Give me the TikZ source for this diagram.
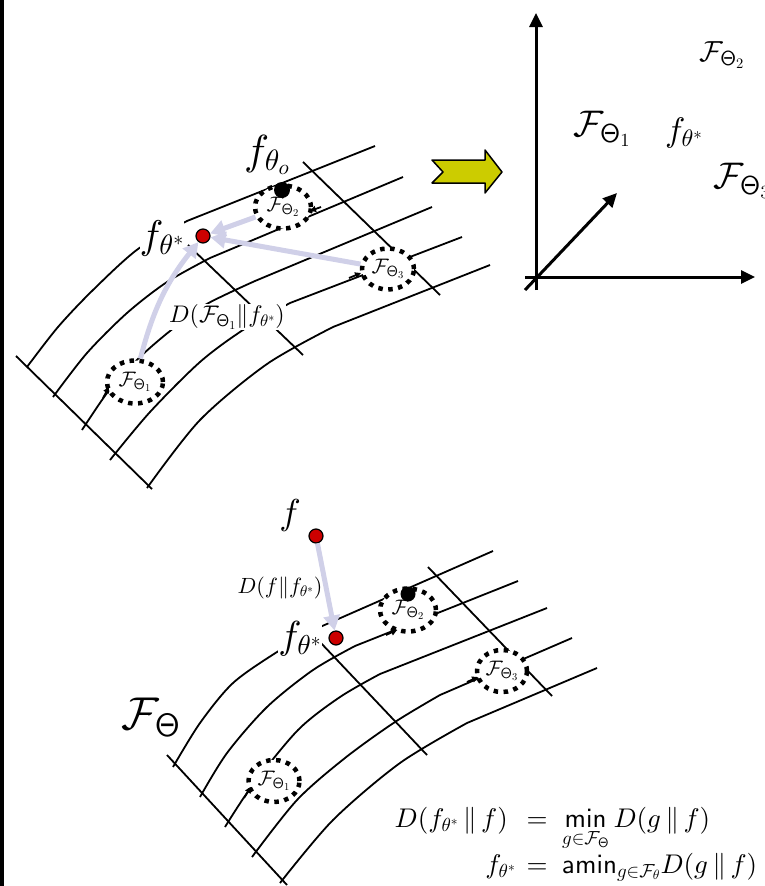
\documentclass[tikz,border=0pt]{standalone}
\usepackage{amsmath}
\usepackage{tikz}
\usetikzlibrary{arrows.meta,shapes.geometric,positioning}
% scalable math fonts
\DeclareFontShape{OML}{cmm}{m}{it}{<-> cmmi10}{\skewchar\font=127}
\DeclareFontShape{OMS}{cmsy}{m}{n}{<-> cmsy10}{\skewchar\font=48}
\DeclareFontShape{OMX}{cmex}{m}{n}{<-> cmex10}{}
\DeclareFontShape{OT1}{cmr}{m}{n}{<-> cmr10}{}
\DeclareFontShape{OT1}{cmss}{m}{n}{<-> cmss10}{}
\definecolor{dotred}{RGB}{204,0,0}
\definecolor{klblue}{RGB}{208,208,232}
\definecolor{olive}{RGB}{204,204,0}
\newcommand{\Th}{\mathsf{\Theta}}
\tikzset{
  every picture/.style={line join=round},
  fiber/.style={line width=1.8pt},
  blob/.style={ellipse, draw, fill=white, line width=4.5pt,
    dash pattern=on 4.5pt off 5.5pt, inner sep=0pt,
    minimum width=56pt, minimum height=43pt,
    font=\fontsize{21}{24}\selectfont},
  reddot/.style={circle, draw, fill=dotred, line width=1.2pt,
    minimum size=14pt, inner sep=0pt},
  blackdot/.style={circle, fill=black, minimum size=16pt, inner sep=0pt},
  big/.style={font=\fontsize{40}{44}\selectfont, inner sep=0pt, fill=white},
  mid/.style={font=\fontsize{24}{28}\selectfont, inner sep=1pt, fill=white},
  eqn/.style={font=\fontsize{27}{30}\selectfont, inner sep=0pt},
  kl/.style={klblue, line width=5pt, -{Triangle[length=15pt,width=16pt]}},
  axis/.style={line width=3pt, -{Triangle[length=14pt,width=13pt]}},
  tip/.style={line width=1.8pt, -{Triangle[length=6pt,width=6pt]}},
}
\begin{document}
\begin{tikzpicture}[x=1pt,y=-1pt]
\useasboundingbox (0,0) rectangle (765,886);
\fill (0,0) rectangle (4,886);

% upper sheet: fibres and cross lines
\draw[fiber] plot[smooth] coordinates {(27,367) (58,327) (93,290) (138,249) (187,221)} -- (375,146);
\draw[fiber] plot[smooth] coordinates {(53,397) (87,353) (127,313) (167,282) (210,258)} -- (403,177);
\draw[fiber] plot[smooth] coordinates {(82,430) (110,389) (140,357) (170,331) (205,305) (255,281)} -- (432,207);
\draw[fiber] plot[smooth] coordinates {(110,460) (150,412) (200,362) (243,330) (290,303)} -- (462,237);
\draw[fiber] plot[smooth] coordinates {(147,488) (200,420) (267,364) (333,327)} -- (490,265);
\draw[fiber] (16,356) -- (152,489);
\draw[fiber] (188,245) -- (303,355);
\draw[fiber] (303,162) -- (440,295);

\node[big, font=\fontsize{42}{46}\selectfont] (lfo) at (267,155) {$f_{\theta_o}$};
\node[big] (lfstar) at (162,238) {$f_{\theta^*}$};
\node[mid] (ldiv) at (227,317) {$D(\mathcal{F}_{\Th_1}\|f_{\theta^*})$};

\node[blob] (t2) at (283,207) {$\mathcal{F}_{\Th_2}$};
\node[blob, minimum width=52pt, minimum height=41pt] (t3) at (388,269) {$\mathcal{F}_{\Th_3}$};
\node[blob] (t1) at (135,382) {$\mathcal{F}_{\Th_1}$};
\draw[tip] (103,398) -- (109,387);
\draw[tip] (321,207) -- (310,211);
\draw[tip] (349,278) -- (361,273);

\node[blackdot] (fo) at (282,190) {};
\node[reddot] (fstar) at (203,236) {};

\draw[kl] (t2) -- (fstar);
\draw[kl] (t3) -- (fstar);
\draw[kl] (t1) to[bend left=12] (fstar);

% arrow to the coordinate picture
\draw[fill=olive, line width=1.5pt] (432,160) -- (485,160) -- (485,150) -- (502,172)
  -- (485,193) -- (485,183) -- (432,183) -- (443,172) -- cycle;

% coordinates
\coordinate (o) at (536,277);
\coordinate (ytop) at (536,13);
\coordinate (ybot) at (536,290);
\coordinate (xl) at (525,277);
\coordinate (xr) at (755,277);
\coordinate (d0) at (525,290);
\coordinate (d1) at (617,193);
\draw[axis] (ybot) -- (ytop);
\draw[axis] (xl) -- (xr);
\draw[axis] (d0) -- (d1);
\node[font=\fontsize{29}{32}\selectfont] (c2) at (722,55) {$\mathcal{F}_{\Th_2}$};
\node[font=\fontsize{37}{40}\selectfont] (c1) at (602,129) {$\mathcal{F}_{\Th_1}$};
\node[font=\fontsize{34}{38}\selectfont] (cf) at (684,133) {$f_{\theta^*}$};
\node[font=\fontsize{37}{40}\selectfont, anchor=west] (c3) at (710,181) {$\mathcal{F}_{\Th_3}$};

% lower sheet
\draw[fiber] plot[smooth] coordinates {(173,767) (200,723) (233,683) (277,652) (320,627)} -- (493,551);
\draw[fiber] plot[smooth] coordinates {(200,797) (227,753) (267,707) (313,670) (355,646)} -- (518,581);
\draw[fiber] plot[smooth] coordinates {(225,827) (252,786) (298,730) (340,697) (380,674)} -- (547,608);
\draw[fiber] plot[smooth] coordinates {(252,857) (297,800) (345,758) (395,722) (440,695)} -- (572,638);
\draw[fiber] plot[smooth] coordinates {(280,883) (333,820) (400,763) (467,723)} -- (597,668);
\draw[fiber] (167,755) -- (287,885);
\draw[fiber] (320,642) -- (427,755);
\draw[fiber] (428,567) -- (552,696);

\node[big, font=\fontsize{36}{40}\selectfont] (lfb) at (290,515) {$f$};
\node[big, font=\fontsize{39}{43}\selectfont] (lfstarb) at (300,639) {$f_{\theta^*}$};
\node[big, font=\fontsize{46}{50}\selectfont] (lfam) at (151,717) {$\mathcal{F}_{\Th}$};
\node[font=\fontsize{22}{26}\selectfont, inner sep=0pt] (ldivb) at (280,588) {$D(f\|f_{\theta^*})$};

\node[blob] (u2) at (408,610) {$\mathcal{F}_{\Th_2}$};
\node[blob, minimum width=50pt, minimum height=42pt] (u3) at (502,671) {$\mathcal{F}_{\Th_3}$};
\node[blob, minimum width=51pt, minimum height=42pt] (u1) at (274,781) {$\mathcal{F}_{\Th_1}$};
\draw[tip] (244,798) -- (251,787);
\draw[tip] (386,635) -- (397,630);
\draw[tip] (467,682) -- (478,677);

\node[blackdot, minimum size=15pt] (fob) at (408,594) {};
\node[reddot] (ftrue) at (316,536) {};
\node[reddot] (fstarb) at (336,638) {};
\draw[kl] (ftrue) -- (fstarb);

% the two equations, aligned on =
\node[eqn, anchor=base east] (lhs1) at (508,827) {$D(f_{\theta^*}\,\|\,f)$};
\node[eqn, anchor=base] (eq1) at (537,827) {$=$};
\node[eqn, anchor=base west] (rhs1) at (562,827)
  {$\mathop{\mathsf{min}}\limits_{g\in\mathcal{F}_{\Th}} D(g\,\|\,f)$};
\node[eqn, anchor=base east] (lhs2) at (516,873) {$f_{\theta^*}$};
\node[eqn, anchor=base] (eq2) at (537,873) {$=$};
\node[eqn, anchor=base west] (rhs2) at (562,873)
  {$\mathsf{amin}_{g\in\mathcal{F}_{\theta}} D(g\,\|\,f)$};
\end{tikzpicture}
\end{document}
